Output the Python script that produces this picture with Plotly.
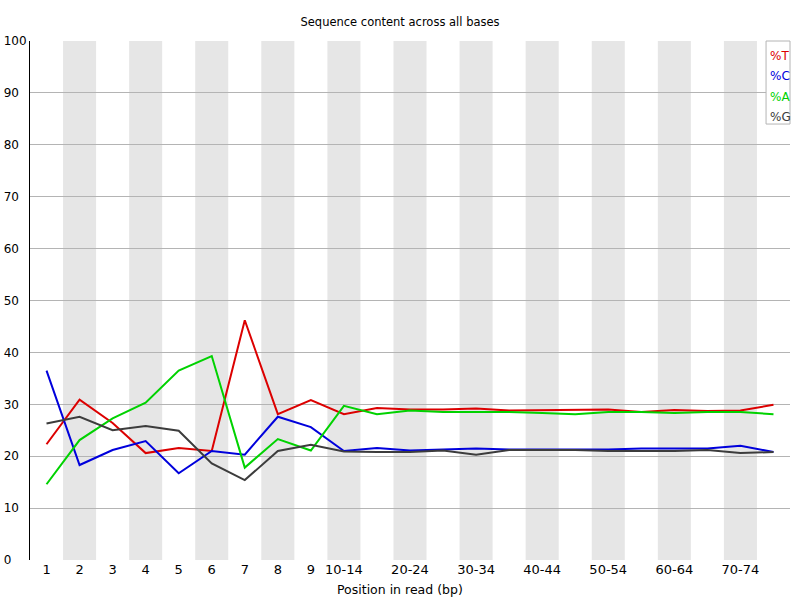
import plotly.graph_objects as go

positions = ["1", "2", "3", "4", "5", "6", "7", "8", "9",
             "10-14", "15-19", "20-24", "25-29", "30-34", "35-39", "40-44",
             "45-49", "50-54", "55-59", "60-64", "65-69", "70-74", "75-76"]
shown_ticks = ["1", "2", "3", "4", "5", "6", "7", "8", "9",
               "10-14", "20-24", "30-34", "40-44", "50-54", "60-64", "70-74"]
y_ticks = [0, 10, 20, 30, 40, 50, 60, 70, 80, 90, 100]

pct_t = [22.3, 30.9, 26.4, 20.6, 21.6, 21.0, 46.2, 28.1, 30.8,
         28.1, 29.3, 29.0, 29.0, 29.2, 28.8, 28.9, 29.0, 29.0, 28.5, 28.9, 28.7, 28.8, 29.9]
pct_c = [36.5, 18.3, 21.2, 22.9, 16.7, 21.0, 20.3, 27.6, 25.6,
         21.0, 21.6, 21.1, 21.3, 21.5, 21.3, 21.3, 21.3, 21.3, 21.5, 21.5, 21.5, 22.0, 20.8]
pct_a = [14.6, 23.1, 27.3, 30.3, 36.5, 39.3, 17.8, 23.3, 21.1,
         29.7, 28.1, 28.8, 28.5, 28.5, 28.5, 28.3, 28.1, 28.5, 28.5, 28.3, 28.5, 28.5, 28.1]
pct_g = [26.3, 27.6, 25.0, 25.8, 24.9, 18.6, 15.4, 21.0, 22.2,
         20.9, 20.8, 20.8, 21.1, 20.3, 21.2, 21.2, 21.2, 21.0, 21.0, 21.0, 21.2, 20.6, 20.8]

series = [("%T", pct_t, "rgb(220,0,0)"),
          ("%C", pct_c, "rgb(0,0,220)"),
          ("%A", pct_a, "rgb(0,210,0)"),
          ("%G", pct_g, "rgb(60,60,60)")]

FONT = "DejaVu Sans"

fig = go.Figure()
for name, vals, col in series:
    fig.add_trace(go.Scatter(x=positions, y=vals, mode="lines", name=name,
                             line=dict(color=col, width=2), showlegend=False))

# alternating grey stripes behind every other position
for i in range(1, len(positions), 2):
    fig.add_shape(type="rect", xref="x", yref="paper", x0=i - 0.5, x1=i + 0.5,
                  y0=0, y1=1, fillcolor="rgb(230,230,230)", line_width=0, layer="below")

# legend box drawn by hand, like the original
fig.add_shape(type="rect", xref="paper", yref="paper", x0=0.9685, x1=1.0, y0=0.84, y1=1.0,
              line=dict(color="rgb(180,180,180)", width=1), fillcolor="white", layer="above")
for k, (name, vals, col) in enumerate(series):
    fig.add_annotation(xref="paper", yref="paper", x=0.9705, y=0.972 - k * 0.0395,
                       xanchor="left", yanchor="middle", text=name, showarrow=False,
                       font=dict(family=FONT, size=12, color=col))

# x title is centred on the page in the original, not on the plot area
fig.add_annotation(xref="paper", yref="paper", x=0.4868, y=-0.0577, xanchor="center",
                   yanchor="middle", text="Position in read (bp)", showarrow=False,
                   font=dict(family=FONT, size=12.5, color="black"))

fig.update_layout(
    width=800, height=600,
    margin=dict(l=30, r=10, t=41, b=40),
    paper_bgcolor="white", plot_bgcolor="white",
    title=dict(text="Sequence content across all bases", x=0.5, xanchor="center",
               y=1 - 22 / 600, yanchor="middle", font=dict(family=FONT, size=11.5, color="black")),
    font=dict(family=FONT, size=12, color="black"),
)
fig.update_xaxes(type="category", categoryarray=positions, categoryorder="array",
                 tickmode="array", tickvals=shown_ticks, ticktext=shown_ticks,
                 showgrid=False, showline=False, ticks="", zeroline=False, automargin=False,
                 range=[-0.5, len(positions) - 0.5], tickfont=dict(size=13))
# pad labels with figure spaces so they line up on the left like the original
fig.update_yaxes(range=[0, 100], tickmode="array", tickvals=y_ticks,
                 ticktext=[str(v) + "\u2007" * (3 - len(str(v))) for v in y_ticks],
                 showgrid=True, gridcolor="rgb(180,180,180)", gridwidth=1,
                 showline=True, linecolor="black", linewidth=1, ticks="", automargin=False,
                 zeroline=False, tickfont=dict(size=12))

# page body has a default margin; drop it so the chart sits at the window's corner
fig.write_html("out.html", config={"displayModeBar": False},
               post_script="document.body.style.margin='0';")
